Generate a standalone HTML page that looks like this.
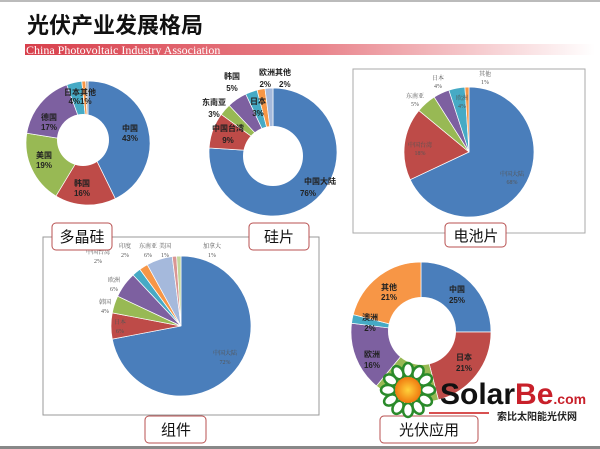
<!DOCTYPE html>
<html><head><meta charset="utf-8"><style>
body{margin:0;width:600px;height:449px;overflow:hidden;background:#fff;font-family:"Liberation Sans","Noto Sans CJK SC",sans-serif}
svg{position:absolute;left:0;top:0}
.lb{font-size:8px;font-weight:bold;fill:#222;text-anchor:middle;font-family:"Liberation Sans","Noto Sans CJK SC",sans-serif}
.ls{font-size:6px;fill:#555;text-anchor:middle;font-family:"Liberation Serif","Noto Serif CJK SC",serif}
.bx{fill:#fff;stroke:#b85050;stroke-width:1}
.bt{font-size:15px;fill:#111;text-anchor:middle;font-family:"Liberation Sans","Noto Sans CJK SC",sans-serif}
</style></head><body>
<svg width="600" height="449" viewBox="0 0 600 449">
<defs><linearGradient id="g" x1="0" x2="1"><stop offset="0" stop-color="#d8404c"/><stop offset="0.5" stop-color="#e88088"/><stop offset="1" stop-color="#fff"/></linearGradient>
<radialGradient id="sun"><stop offset="0" stop-color="#ffd23a"/><stop offset="1" stop-color="#f07a10"/></radialGradient></defs>
<rect x="0" y="0" width="600" height="2" fill="#bbb"/>
<rect x="0" y="446" width="600" height="3" fill="#888"/>
<text x="27" y="33" style="font-size:22px;font-weight:bold;font-family:'Noto Sans CJK SC',sans-serif" fill="#111">光伏产业发展格局</text>
<rect x="25" y="44" width="570" height="11" fill="url(#g)"/>
<text x="26" y="54" fill="#fff" style="font-size:12px;font-family:'Liberation Serif',serif">China Photovoltaic Industry Association</text>
<rect x="353" y="69" width="232" height="164" fill="none" stroke="#aaa"/>
<rect x="43" y="237" width="276" height="178" fill="none" stroke="#999"/>
<g id="charts"></g>
<g>
<text class="lb" x="130" y="131">中国</text><text class="lb" x="130" y="141">43%</text>
<text class="lb" x="82" y="186">韩国</text><text class="lb" x="82" y="196">16%</text>
<text class="lb" x="44" y="158">美国</text><text class="lb" x="44" y="168">19%</text>
<text class="lb" x="49" y="120">德国</text><text class="lb" x="49" y="130">17%</text>
<text class="lb" x="80" y="95">日本其他</text><text class="lb" x="80" y="104">4%1%</text>
<text class="lb" x="320" y="184">中国大陆</text><text class="lb" x="308" y="196">76%</text>
<text class="lb" x="228" y="131">中国台湾</text><text class="lb" x="228" y="143">9%</text>
<text class="lb" x="214" y="105">东南亚</text><text class="lb" x="214" y="117">3%</text>
<text class="lb" x="232" y="79">韩国</text><text class="lb" x="232" y="91">5%</text>
<text class="lb" x="258" y="104">日本</text><text class="lb" x="258" y="116">3%</text>
<text class="lb" x="275" y="75">欧洲其他</text><text class="lb" x="275" y="87">2%　2%</text>
<text class="ls" x="512" y="176">中国大陆</text><text class="ls" x="512" y="184">68%</text>
<text class="ls" x="420" y="147">中国台湾</text><text class="ls" x="420" y="155">18%</text>
<text class="ls" x="415" y="98">东南亚</text><text class="ls" x="415" y="106">5%</text>
<text class="ls" x="438" y="80">日本</text><text class="ls" x="438" y="88">4%</text>
<text class="ls" x="462" y="100">欧洲</text><text class="ls" x="462" y="108">4%</text>
<text class="ls" x="485" y="76">其他</text><text class="ls" x="485" y="84">1%</text>
<text class="ls" x="225" y="355">中国大陆</text><text class="ls" x="225" y="364">72%</text>
<text class="ls" x="120" y="324">日本</text><text class="ls" x="120" y="333">6%</text>
<text class="ls" x="105" y="304">韩国</text><text class="ls" x="105" y="313">4%</text>
<text class="ls" x="114" y="282">欧洲</text><text class="ls" x="114" y="291">6%</text>
<text class="ls" x="98" y="254">中国台湾</text><text class="ls" x="98" y="263">2%</text>
<text class="ls" x="125" y="248">印度</text><text class="ls" x="125" y="257">2%</text>
<text class="ls" x="148" y="248">东南亚</text><text class="ls" x="148" y="257">6%</text>
<text class="ls" x="165" y="248">美国</text><text class="ls" x="165" y="257">1%</text>
<text class="ls" x="212" y="248">加拿大</text><text class="ls" x="212" y="257">1%</text>
<text class="lb" x="457" y="292">中国</text><text class="lb" x="457" y="303">25%</text>
<text class="lb" x="464" y="360">日本</text><text class="lb" x="464" y="371">21%</text>
<text class="lb" x="372" y="357">欧洲</text><text class="lb" x="372" y="368">16%</text>
<text class="lb" x="370" y="320">澳洲</text><text class="lb" x="370" y="331">2%</text>
<text class="lb" x="389" y="290">其他</text><text class="lb" x="389" y="300">21%</text>
</g>
<rect class="bx" x="52" y="223" width="60" height="27" rx="4"/><text class="bt" x="82" y="242">多晶硅</text>
<rect class="bx" x="249" y="223" width="60" height="27" rx="4"/><text class="bt" x="279" y="242">硅片</text>
<rect class="bx" x="445" y="223" width="61" height="24" rx="4"/><text class="bt" x="476" y="241">电池片</text>
<rect class="bx" x="145" y="416" width="61" height="27" rx="4"/><text class="bt" x="176" y="435">组件</text>
<rect x="429" y="412" width="60" height="2" fill="#d85050"/>
<rect class="bx" x="380" y="416" width="98" height="27" rx="4"/><text class="bt" x="429" y="435">光伏应用</text>
<g id="logo"></g>
<text x="440" y="404" style="font-size:30px;font-weight:bold;font-family:'Liberation Sans',sans-serif" fill="#111">Solar<tspan fill="#c8202a">Be</tspan><tspan fill="#c8202a" style="font-size:14px">.com</tspan></text>
<text x="497" y="420" style="font-size:10px;font-weight:bold;font-family:'Noto Sans CJK SC',sans-serif" fill="#222">索比太阳能光伏网</text>
</svg>
<script>
var C={b:"#4a7ebb",r:"#be4b48",g:"#98b954",p:"#7d60a0",t:"#46aac5",o:"#f79646",lb:"#a5b9dc",pk:"#d99694",lg:"#c3d69b",gr:"#aaa"};
var G=document.getElementById("charts"),ns="http://www.w3.org/2000/svg";
function pie(cx,cy,r,ri,icx,icy,data){var a=-Math.PI/2,tot=0;data.forEach(d=>tot+=d[0]);
data.forEach(d=>{var b=a+d[0]/tot*2*Math.PI,l=(b-a)>Math.PI?1:0;
var p="M"+cx+","+cy+"L"+(cx+r*Math.cos(a))+","+(cy+r*Math.sin(a))+"A"+r+","+r+" 0 "+l+" 1 "+(cx+r*Math.cos(b))+","+(cy+r*Math.sin(b))+"Z";
var e=document.createElementNS(ns,"path");e.setAttribute("d",p);e.setAttribute("fill",C[d[1]]);e.setAttribute("stroke","#fff");e.setAttribute("stroke-width","0.7");G.appendChild(e);a=b;});
if(ri){var c=document.createElementNS(ns,"circle");c.setAttribute("cx",icx);c.setAttribute("cy",icy);c.setAttribute("r",ri);c.setAttribute("fill","#fff");G.appendChild(c);}}
pie(88,143,62,26,83,140,[[43,"b"],[16,"r"],[19,"g"],[17,"p"],[4,"t"],[1,"o"],[0.6,"gr"]]);
pie(273,152,64,30,273,156,[[76,"b"],[9,"r"],[3,"g"],[5,"p"],[3,"t"],[2,"o"],[2,"lb"]]);
pie(469,152,65,0,0,0,[[68,"b"],[18,"r"],[5,"g"],[4,"p"],[4,"t"],[1,"o"]]);
pie(181,326,70,0,0,0,[[72,"b"],[6,"r"],[4,"g"],[6,"p"],[2,"t"],[2,"o"],[6,"lb"],[1,"pk"],[1,"lg"]]);
pie(421,332,70,34,422,331,[[25,"b"],[21,"r"],[15,"g"],[16,"p"],[2,"t"],[21,"o"]]);
var L=document.getElementById("logo"),s="";
for(var i=0;i<12;i++){var an=i*30*Math.PI/180,x=408+20*Math.cos(an),y=390+20*Math.sin(an);
s+='<ellipse cx="'+x+'" cy="'+y+'" rx="7" ry="5" transform="rotate('+(i*30)+' '+x+' '+y+')" fill="#fff" stroke="#2a8a2a" stroke-width="2.5"/>';}
s+='<circle cx="408" cy="390" r="13" fill="url(#sun)"/>';L.innerHTML=s;
</script>
</body></html>
